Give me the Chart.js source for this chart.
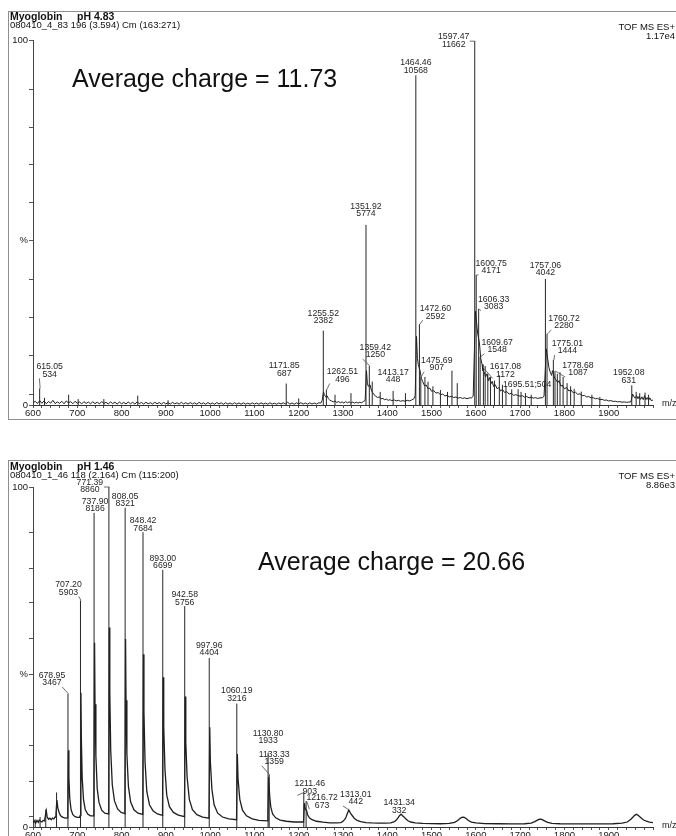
<!DOCTYPE html>
<html><head><meta charset="utf-8">
<script src="https://cdn.jsdelivr.net/npm/chart.js@4.4.1/dist/chart.umd.min.js"></script>
<style>
html,body{margin:0;padding:0;background:#fff;width:676px;height:836px;overflow:hidden;font-family:"Liberation Sans",Arial,sans-serif;color:#111}
.frame{position:absolute;left:8px;width:720px;border:1px solid #8f8f8f;border-right:none}
canvas{position:absolute;left:0}
.t{position:absolute;white-space:pre;line-height:1}
.b{font-weight:bold;font-size:10.5px}
.s{font-size:9.5px}
.r{text-align:right;right:1px}
.avg{font-size:25px;color:#111}
</style></head>
<body>
<div class="frame" style="top:11px;height:407px"></div>
<div class="frame" style="top:460px;height:420px;border-bottom:none"></div>
<canvas id="c1" width="676" height="420" style="top:0"></canvas>
<canvas id="c2" width="676" height="396" style="top:440px"></canvas>

<div class="t b" style="left:10px;top:11px">Myoglobin</div>
<div class="t b" style="left:77px;top:11px">pH 4.83</div>
<div class="t s" style="left:10px;top:20px">080410_4_83 196 (3.594) Cm (163:271)</div>
<div class="t s r" style="top:22px">TOF MS ES+</div>
<div class="t s r" style="top:31px">1.17e4</div>
<div class="t avg" style="left:72px;top:66px">Average charge = 11.73</div>

<div class="t b" style="left:10px;top:461px">Myoglobin</div>
<div class="t b" style="left:77px;top:461px">pH 1.46</div>
<div class="t s" style="left:10px;top:470px">080410_1_46 118 (2.164) Cm (115:200)</div>
<div class="t s r" style="top:471px">TOF MS ES+</div>
<div class="t s r" style="top:480px">8.86e3</div>
<div class="t avg" style="left:258px;top:549px">Average charge = 20.66</div>

<script>
// ---------------- DATA ----------------
const xTickLabels = [600,700,800,900,1000,1100,1200,1300,1400,1500,1600,1700,1800,1900];
const xMinorStep = 20;
const yTickPercents = [0,3,13.5,24,34.5,45,55.5,66,76,86.5,100];
const yTickLabels   = ['0','','','','','%','','','','','100'];

// pH 4.83 (full scale 1.17e4)
const topFullScale = 11700;
const topPeakMz  = [615.05,1171.85,1255.52,1262.51,1351.92,1359.42,1413.17,1464.46,1472.60,1475.69,1597.47,1600.75,1606.33,1609.67,1617.08,1695.51,1757.06,1760.72,1775.01,1778.68,1952.08];
const topPeakInt = [534,687,2382,496,5774,1250,448,10568,2592,907,11662,4171,3083,1548,1172,504,4042,2280,1444,1087,631];
const topMinorMz  = [626,680.5,702,760,836.5,905,1200,1282,1318,1366,1384,1441,1485,1492,1503,1520,1536,1546,1558,1621,1627,1633,1642,1653,1660,1668,1681,1702,1712,1725,1784,1790,1797,1806,1814,1822,1838,1862,1880,1962,1970,1982,1990];
const topMinorInt = [230,330,190,190,300,150,210,330,380,750,420,380,900,750,600,480,420,1100,700,1250,1000,900,780,950,650,600,500,420,380,330,1000,1050,900,700,600,520,430,330,260,420,380,400,330];
const topProfile = [
600,60,605,120,610,45,615,140,620,55,625,130,630,40,635,110,640,60,645,150,650,45,655,100,660,50,665,120,670,40,675,130,680,70,685,110,690,40,695,120,
700,55,705,100,710,35,715,110,720,50,725,95,730,40,735,105,740,45,745,90,750,35,755,110,760,50,765,85,770,35,775,100,780,45,785,90,790,30,795,95,
800,40,805,80,810,35,815,95,820,40,825,85,830,30,835,100,840,45,845,80,850,30,855,90,860,40,865,75,870,30,875,90,880,40,885,80,890,30,895,85,
900,35,905,75,910,30,915,85,920,40,925,70,930,30,935,85,940,35,945,75,950,30,955,80,960,35,965,70,970,25,975,85,980,35,985,70,990,25,995,80,
1000,30,1005,65,1010,25,1015,80,1020,35,1025,70,1030,25,1035,75,1040,30,1045,65,1050,25,1055,75,1060,30,1065,65,1070,25,1075,70,1080,30,1085,60,1090,25,1095,70,
1100,30,1105,65,1110,25,1115,70,1120,30,1125,60,1130,25,1135,70,1140,30,1145,60,1150,25,1155,65,1160,30,1165,70,1170,35,1175,90,1180,30,1185,65,1190,25,1195,70,
1200,35,1205,75,1210,30,1215,65,1220,25,1225,70,1230,30,1235,65,1240,30,1245,70,1250,60,1253,150,1256,420,1258,330,1261,260,1264,300,1267,200,1270,160,1274,130,1278,100,
1282,130,1286,80,1290,110,1294,70,1298,100,1302,60,1306,110,1310,70,1314,100,1318,60,1322,95,1326,60,1330,90,1334,60,1338,90,1342,70,1346,110,1350,150,
1353,1100,1355,700,1357,600,1361,650,1364,480,1367,400,1370,330,1374,280,1378,240,1382,260,1386,200,1390,210,1394,170,1398,190,1402,150,1406,170,1410,140,
1416,160,1420,130,1425,150,1430,120,1435,140,1440,120,1445,150,1450,130,1455,160,1460,200,1463,300,1466,2200,1468,1500,1470,1300,1474,1100,1477,850,
1480,750,1484,620,1488,640,1492,520,1496,540,1500,440,1505,460,1510,380,1515,400,1520,330,1525,350,1530,290,1535,310,1540,260,1545,280,1550,240,1555,255,
1560,220,1565,240,1570,210,1575,230,1580,200,1585,225,1590,230,1594,280,1599,3000,1602,2600,1604,2300,1608,2000,1611,1500,1614,1300,1616,1100,1619,1050,
1622,900,1625,1000,1628,780,1631,880,1634,680,1637,760,1640,590,1644,650,1648,520,1652,560,1656,450,1660,500,1665,400,1670,430,1675,350,1680,380,1685,310,
1690,330,1700,280,1705,300,1710,250,1715,270,1720,230,1725,250,1730,220,1735,235,1740,210,1745,230,1750,230,1754,280,1759,1800,1762,1500,1765,1200,
1768,1050,1771,950,1773,1100,1777,900,1781,800,1785,720,1788,780,1792,600,1795,640,1800,520,1805,560,1810,450,1815,480,1820,390,1825,410,1830,340,
1835,360,1840,300,1845,310,1850,260,1855,270,1860,230,1865,235,1870,200,1875,210,1880,170,1885,180,1890,150,1895,160,1900,130,1905,140,1910,115,
1915,120,1920,100,1925,110,1930,90,1935,100,1940,85,1945,95,1950,100,1954,350,1957,260,1960,220,1963,300,1966,200,1969,280,1972,180,1975,260,1978,170,
1981,300,1984,170,1987,240,1990,150,1993,230,1996,140,2000,160
];

// pH 1.46 (full scale 8.86e3)
const botFullScale = 8860;
const botPeakMz  = [678.95,707.20,737.90,771.39,808.05,848.42,893.00,942.58,997.96,1060.19,1130.80,1133.33,1211.46,1216.72,1313.01,1431.34];
const botPeakInt = [3467,5903,8186,8860,8321,7684,6699,5756,4404,3216,1933,1359,903,673,442,332];
const botMinorMz  = [605,616,628.8,653.2];
const botMinorInt = [200,260,460,900];
const botProfile = [
600,110,603,160,606,100,609,170,612,120,614,180,617,150,620,130,623,170,626,160,628,300,630,420,632,260,635,200,638,230,641,190,644,230,647,210,650,260,
651.8,350,654,700,656,500,659,380,662,300,665,270,668,250,671,240,674,230,677,240,678.5,300,680,2000,681,1300,683,750,686,450,690,320,695,270,700,250,705,250,706.7,300,
708.2,3500,709.2,2300,711,1300,714,720,718,450,724,330,730,290,737.4,290,
739,4800,740,3200,742,1850,745,1000,749,640,755,440,762,360,770.9,340,
772.4,5200,773.4,3500,775.5,2000,779,1100,784,680,791,470,799,380,807.5,350,
809,4900,810,3300,812,1900,815.5,1050,820.5,650,828,450,837,360,847.9,330,
849.5,4500,850.5,3000,853,1700,857,920,863,580,871,420,881,340,892.5,300,
894,3900,895.2,2600,898,1500,902,830,908,530,917,380,928,310,942,270,
943.7,3400,945,2200,948,1300,953,720,960,450,970,320,983,260,997.4,230,
999.1,2600,1000.5,1700,1004,980,1009,580,1017,360,1028,260,1042,210,1059.6,190,
1061.4,1900,1063,1250,1067,720,1073,440,1082,290,1095,210,1110,170,1130.3,160,
1132,1300,1134.5,800,1137,520,1141,340,1148,240,1158,180,1172,150,1190,130,1210.9,130,
1212.8,620,1214.5,480,1218,420,1220,320,1224,240,1230,190,1240,150,1255,125,1270,110,1285,105,1295,115,
1300,150,1304,200,1307,260,1310,360,1313,442,1315,400,1318,340,1322,280,1326,220,1332,170,1340,140,1352,115,1365,105,1380,100,1395,100,
1408,110,1416,140,1421,190,1425,250,1428,300,1431.3,332,1434,300,1437,270,1441,220,1446,170,1453,130,1463,110,1480,95,1500,90,1520,85,1540,95,
1552,120,1559,170,1564,220,1568,250,1573,255,1578,220,1583,170,1590,130,1600,105,1620,90,1650,85,1680,80,1710,85,1725,100,1733,140,1739,180,1744,205,
1749,200,1755,160,1762,120,1772,95,1790,85,1820,80,1850,80,1880,80,1910,85,1930,100,1942,130,1950,200,1955,260,1959,310,1963,330,1967,300,1972,250,
1978,190,1985,150,1992,125,2000,115
];

// ---------------- LABEL LAYOUT (style, not data) ----------------
const topLabelDx = [10,-2,0,16,0,6,0,0,16,16,-21,15,15,17,22,9,0,17,14,23,-3];
const topLabelDy = [-14,-10,-10,-10,-11,-11,-11,-5,-8,-9,3,-4,-2,-7,6,-5,-6,-8,-9,2,-5];
const topLabelKind = ['lead','up','up','lead','up','lead','up','up','lead','lead','hook','lead','lead','lead','lead','inline','up','lead','lead','lead','up'];
const botLabelDx = [-16,-12,1,-19,0,0,0,0,0,0,0,5,6,16,7,-2];
const botLabelDy = [-11,-8,-4,3,-4,-4,-4,-4,-5,-5,-12,-13,-1,4,-8,-4];
const botLabelKind = ['lead','lead','up','hook','up','up','up','up','up','up','up','lead','lead','lead','lead','up'];
const botPeakShape = ['stick','stick','stick','stick','stick','stick','stick','stick','stick','stick','stick','stick','stick','stick','broad','broad'];
const labelLineGap = 7.5;

// ---------------- BUILD ----------------
const FONT = '"Liberation Sans", Arial, sans-serif';
function pairs(arr){ const o=[]; for(let i=0;i<arr.length;i+=2) o.push({x:arr[i],y:arr[i+1]}); return o; }
function sticks(mz, it, shape){
  const o=[];
  mz.forEach((m,i)=>{ if(shape && shape[i]!=='stick') return; o.push({x:m,y:0},{x:m,y:it[i]},{x:m,y:null}); });
  return o;
}

const peakLabelPlugin = {
  id:'peakLabels',
  afterDatasetsDraw(chart, args, o){
    const ctx = chart.ctx, x = chart.scales.x, y = chart.scales.y;
    ctx.save();
    ctx.font = '8.7px ' + FONT;
    ctx.fillStyle = '#262626';
    ctx.strokeStyle = '#4a4a4a';
    ctx.lineWidth = 0.8;
    ctx.textAlign = 'center';
    ctx.textBaseline = 'middle';
    o.mz.forEach((m,i)=>{
      const px = x.getPixelForValue(m), py = y.getPixelForValue(o.int[i]);
      const cx = px + o.dx[i], y2 = py + o.dy[i];
      const t1 = m.toFixed(2), t2 = String(o.int[i]);
      const kind = o.kind[i];
      let w;
      if(kind==='inline'){ const t=t1+';'+t2; ctx.fillText(t,cx,y2); w=ctx.measureText(t).width; }
      else { ctx.fillText(t1,cx,y2-labelLineGap); ctx.fillText(t2,cx,y2); w=ctx.measureText(t1).width; }
      ctx.beginPath();
      if(kind==='hook'){ ctx.moveTo(px+0.5,py); ctx.lineTo(px-5,py); }
      else if(kind==='lead'){
        const sx = cx - Math.sign(o.dx[i]||1)*(w/2-3);
        ctx.moveTo(px+0.5,py); ctx.lineTo(sx,y2+4);
      }
      ctx.stroke();
    });
    ctx.textAlign='left';
    ctx.fillStyle='#222';
    ctx.font = '9px ' + FONT;
    ctx.fillText('m/z', x.right+9, y.bottom-1);
    ctx.restore();
  }
};

function makeChart(id, profile, peakMz, peakInt, minorMz, minorInt, shape, full, padTop, axisH, lab, lw){
  const xTicks = [];
  for(let v=xTickLabels[0]; v<=2000; v+=xMinorStep) xTicks.push({value:v});
  return new Chart(document.getElementById(id), {
    type:'line',
    data:{ datasets:[
      { data:pairs(profile), borderColor:'#1e1e1e', borderWidth:lw, pointRadius:0, tension:0, spanGaps:false, order:2 },
      { data:sticks(peakMz,peakInt,shape).concat(sticks(minorMz,minorInt)), borderColor:'#262626', borderWidth:1, pointRadius:0, tension:0, spanGaps:false, order:1 }
    ]},
    options:{
      responsive:false, animation:false, events:[],
      layout:{ padding:{ left:0, right:23, top:padTop, bottom:0 } },
      plugins:{ legend:{display:false}, tooltip:{enabled:false}, peakLabels:lab },
      scales:{
        x:{ type:'linear', min:600, max:2000, offset:false,
            afterBuildTicks:s=>{ s.ticks = xTicks.slice(); },
            afterFit:s=>{ s.height = axisH; },
            ticks:{ autoSkip:false, maxRotation:0, padding:0, color:'#1a1a1a', font:{family:FONT,size:9.5},
                    callback:v=> xTickLabels.includes(v) ? String(v) : '' },
            grid:{ display:true, drawOnChartArea:false, drawTicks:true, tickLength:3, color:'#555', offset:false },
            border:{ display:true, color:'#333', width:1 } },
        y:{ min:0, max:full,
            afterBuildTicks:s=>{ s.ticks = yTickPercents.map(p=>({value:p/100*full})); },
            afterFit:s=>{ s.width = 33; },
            ticks:{ autoSkip:false, padding:1, color:'#1a1a1a', font:{family:FONT,size:9.5},
                    callback:(v,i)=> yTickLabels[i] },
            grid:{ display:true, drawOnChartArea:false, drawTicks:true, tickLength:4, color:'#555' },
            border:{ display:true, color:'#444', width:1 } }
      }
    },
    plugins:[peakLabelPlugin]
  });
}

makeChart('c1', topProfile, topPeakMz, topPeakInt, topMinorMz, topMinorInt, null, topFullScale, 40, 15,
  {mz:topPeakMz, int:topPeakInt, dx:topLabelDx, dy:topLabelDy, kind:topLabelKind}, 1);
makeChart('c2', botProfile, botPeakMz, botPeakInt, botMinorMz, botMinorInt, botPeakShape, botFullScale, 47, 9,
  {mz:botPeakMz, int:botPeakInt, dx:botLabelDx, dy:botLabelDy, kind:botLabelKind}, 1.3);
</script>
</body></html>
